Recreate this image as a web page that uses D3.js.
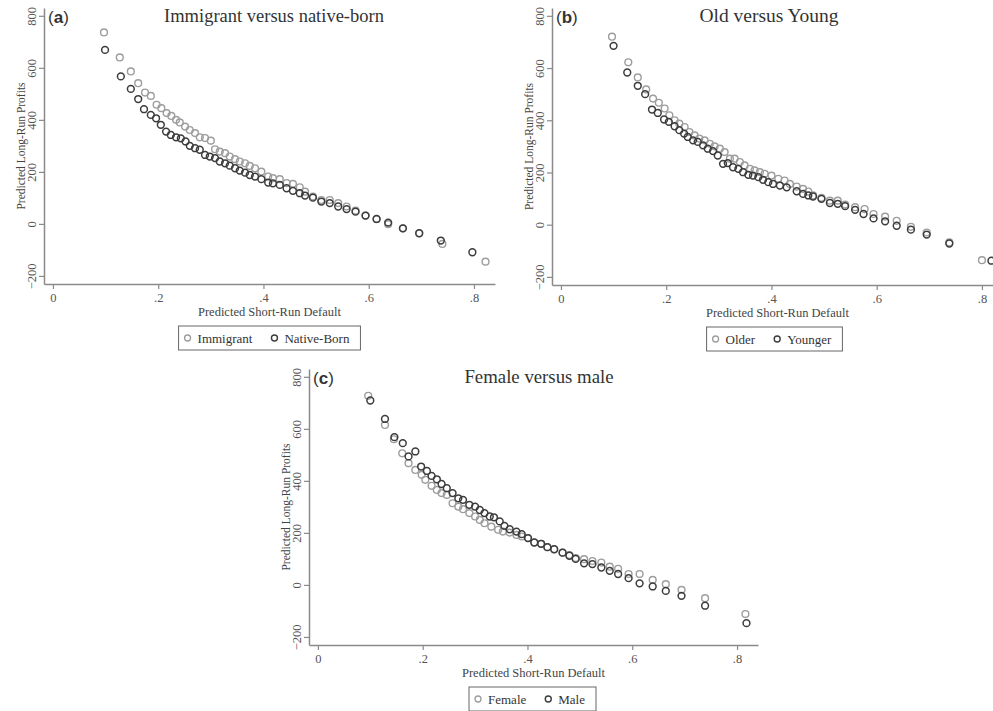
<!DOCTYPE html>
<html>
<head>
<meta charset="utf-8">
<script src="https://cdn.jsdelivr.net/npm/d3@7"></script>
<style>
  body { margin: 0; background: #fff; }
  svg text { font-family: "Liberation Serif", "DejaVu Serif", serif; }
  svg text.letter { font-family: "Liberation Sans", Arial, sans-serif; }
</style>
</head>
<body>
<div id="viz"></div>
<script>
let w = 993;
let h = 711;

// panel (a) immigrant vs native-born
let defaultImm = [0.097,0.127,0.148,0.162,0.175,0.186,0.197,0.206,0.216,0.225,0.234,0.241,0.251,0.260,0.270,0.279,0.289,0.300,0.308,0.317,0.327,0.336,0.346,0.355,0.365,0.374,0.384,0.396,0.409,0.418,0.431,0.444,0.456,0.469,0.479,0.494,0.510,0.526,0.542,0.558,0.575,0.594,0.615,0.637,0.665,0.696,0.740,0.822];
let profitImm = [736,640,586,541,505,492,458,445,426,415,400,390,374,361,349,333,330,320,287,278,272,259,249,240,233,223,214,201,182,176,172,157,154,141,124,105,92,92,80,67,51,32,18,-1,-17,-36,-77,-145];
let defaultNat = [0.099,0.129,0.148,0.162,0.173,0.186,0.196,0.205,0.215,0.224,0.234,0.243,0.252,0.260,0.270,0.279,0.289,0.298,0.308,0.317,0.327,0.336,0.346,0.355,0.365,0.374,0.384,0.396,0.409,0.418,0.431,0.444,0.456,0.469,0.479,0.494,0.510,0.526,0.542,0.558,0.575,0.594,0.615,0.637,0.665,0.696,0.737,0.797];
let profitNat = [669,567,519,480,441,419,406,381,355,342,333,329,317,300,291,285,265,259,253,240,233,224,214,205,197,188,182,172,159,156,150,137,127,118,109,101,86,80,67,57,47,32,19,5,-17,-36,-64,-109];

// panel (b) old vs young
let defaultOld = [0.097,0.128,0.146,0.162,0.175,0.186,0.197,0.206,0.216,0.225,0.235,0.244,0.254,0.263,0.273,0.283,0.292,0.302,0.311,0.321,0.330,0.340,0.349,0.359,0.368,0.378,0.387,0.400,0.413,0.425,0.435,0.448,0.460,0.470,0.479,0.495,0.511,0.526,0.540,0.559,0.577,0.594,0.616,0.638,0.665,0.695,0.738,0.800];
let profitOld = [720,622,564,518,483,467,445,419,400,387,374,355,342,330,323,310,300,291,278,253,253,240,227,214,208,201,195,188,176,169,156,146,137,127,112,103,92,92,77,67,60,41,31,15,-8,-30,-68,-136];
let defaultYoung = [0.100,0.126,0.146,0.160,0.173,0.184,0.196,0.205,0.216,0.225,0.234,0.241,0.251,0.260,0.270,0.279,0.289,0.298,0.308,0.317,0.327,0.337,0.346,0.356,0.365,0.375,0.384,0.394,0.403,0.416,0.429,0.448,0.460,0.470,0.479,0.495,0.511,0.526,0.540,0.559,0.575,0.594,0.616,0.638,0.665,0.695,0.738,0.818];
let profitYoung = [685,583,532,500,441,428,403,394,377,362,349,336,323,317,304,291,282,265,233,236,220,214,201,191,188,182,172,163,156,150,143,128,118,112,108,99,83,80,71,57,41,24,13,-4,-19,-38,-72,-138];

// panel (c) female vs male
let defaultFem = [0.096,0.128,0.145,0.161,0.173,0.186,0.198,0.205,0.217,0.227,0.236,0.246,0.257,0.268,0.277,0.289,0.300,0.309,0.318,0.331,0.344,0.353,0.366,0.379,0.389,0.401,0.413,0.426,0.438,0.451,0.467,0.480,0.492,0.508,0.524,0.541,0.557,0.573,0.593,0.614,0.639,0.664,0.694,0.739,0.816];
let profitFem = [727,615,560,506,468,442,423,404,381,365,353,346,314,301,291,276,263,250,237,224,212,205,201,192,186,180,163,158,145,137,124,115,103,99,92,86,70,62,42,42,19,3,-19,-51,-112];
let defaultMale = [0.100,0.128,0.146,0.162,0.173,0.186,0.197,0.208,0.217,0.227,0.236,0.246,0.257,0.268,0.277,0.289,0.300,0.309,0.318,0.328,0.336,0.347,0.356,0.366,0.379,0.389,0.401,0.413,0.426,0.438,0.451,0.467,0.480,0.492,0.508,0.524,0.541,0.557,0.573,0.593,0.614,0.639,0.664,0.694,0.739,0.818];
let profitMale = [709,638,568,545,494,513,455,438,419,406,388,372,353,333,327,308,301,288,276,263,260,244,227,214,205,195,180,163,158,145,137,124,112,100,83,80,67,54,42,26,6,-6,-23,-42,-80,-147];

let xTicks = [0, 0.2, 0.4, 0.6, 0.8];
let yTicks = [-200, 0, 200, 400, 600, 800];

let lightColor = "#9d9d9d";
let darkColor = "#3c3c3c";
let axisColor = "#8a8a8a";

let viz = d3.select("#viz")
    .append("svg")
    .attr("width", w)
    .attr("height", h);

function zip(xs, ys) {
    return xs.map((x, i) => ({x: x, y: ys[i]}));
}

function fmtX(d) {
    if (d === 0) return "0";
    return d3.format(".1f")(d).replace(/^0/, "");
}

function drawPanel(p) {
    let g = viz.append("g");

    let xScale = d3.scaleLinear().domain([-0.017, 0.84]).range([p.left, p.right]);
    let yScale = d3.scaleLinear().domain([-231, 830]).range([p.bottom, p.top]);

    // x axis
    let xAxis = g.append("g")
        .attr("transform", "translate(0," + p.bottom + ")")
        .call(d3.axisBottom(xScale).tickValues(xTicks).tickFormat(fmtX).tickSize(5).tickSizeOuter(0));
    // y axis
    let yAxis = g.append("g")
        .attr("transform", "translate(" + p.left + ",0)")
        .call(d3.axisLeft(yScale).tickValues(yTicks).tickSize(5).tickSizeOuter(0));

    [xAxis, yAxis].forEach(a => {
        a.select(".domain").attr("stroke", axisColor).attr("stroke-width", 1.5);
        a.selectAll(".tick line").attr("stroke", axisColor).attr("stroke-width", 1.2);
        a.selectAll(".tick text")
            .attr("fill", "#555")
            .attr("font-size", 12.5);
    });
    xAxis.selectAll(".tick text").attr("y", 9).attr("dy", "0.71em");
    yAxis.selectAll(".tick text")
        .attr("transform", "rotate(-90)")
        .attr("x", 0)
        .attr("y", -8)
        .attr("dy", 0)
        .attr("text-anchor", "middle");

    // axis titles
    g.append("text")
        .attr("x", (p.left + p.right) / 2)
        .attr("y", p.bottom + 32)
        .attr("text-anchor", "middle")
        .attr("font-size", 12.5)
        .attr("fill", "#444")
        .text("Predicted Short-Run Default");

    g.append("text")
        .attr("transform", "translate(" + (p.left - 19) + "," + ((p.top + p.bottom) / 2) + ") rotate(-90)")
        .attr("text-anchor", "middle")
        .attr("font-size", 11.5)
        .attr("fill", "#444")
        .text("Predicted Long-Run Profits");

    // panel letter and title
    g.append("text")
        .attr("class", "letter")
        .attr("x", p.left + 4)
        .attr("y", p.top + 15)
        .attr("font-size", 17)
        .attr("fill", "#333")
        .text("(")
        .append("tspan").attr("font-weight", "bold").text(p.letter)
        .select(function () { return this.parentNode; })
        .append("tspan").text(")");

    g.append("text")
        .attr("x", p.titleX)
        .attr("y", p.top + 14)
        .attr("text-anchor", "middle")
        .attr("font-size", p.titleSize)
        .attr("fill", "#333")
        .text(p.title);

    // points: light series first, dark on top
    g.append("g").selectAll("circle")
        .data(zip(p.xs1, p.ys1))
        .enter()
        .append("circle")
        .attr("cx", d => xScale(d.x))
        .attr("cy", d => yScale(d.y))
        .attr("r", 3.4)
        .attr("fill", "none")
        .attr("stroke", lightColor)
        .attr("stroke-width", 1.4);

    g.append("g").selectAll("circle")
        .data(zip(p.xs2, p.ys2))
        .enter()
        .append("circle")
        .attr("cx", d => xScale(d.x))
        .attr("cy", d => yScale(d.y))
        .attr("r", 3.4)
        .attr("fill", "none")
        .attr("stroke", darkColor)
        .attr("stroke-width", 1.5);

    // legend
    let lg = g.append("g");
    let cx = (p.left + p.right) / 2 + p.legendShift;
    let ly = p.bottom + 42;
    let t1 = lg.append("text").attr("font-size", 13).attr("fill", "#333").text(p.names[0]);
    let t2 = lg.append("text").attr("font-size", 13).attr("fill", "#333").text(p.names[1]);
    let w1 = t1.node().getComputedTextLength();
    let w2 = t2.node().getComputedTextLength();
    let total = 10 + 10 + w1 + 22 + 10 + w2 + 10;
    let x0 = cx - total / 2;
    lg.append("rect")
        .attr("x", x0).attr("y", ly)
        .attr("width", total).attr("height", 24)
        .attr("fill", "none")
        .attr("stroke", "#666")
        .attr("stroke-width", 1);
    lg.append("circle").attr("cx", x0 + 9).attr("cy", ly + 12).attr("r", 3)
        .attr("fill", "none").attr("stroke", lightColor).attr("stroke-width", 1.3);
    t1.attr("x", x0 + 19).attr("y", ly + 16.5);
    let x2 = x0 + 19 + w1 + 22;
    lg.append("circle").attr("cx", x2).attr("cy", ly + 12).attr("r", 3)
        .attr("fill", "none").attr("stroke", darkColor).attr("stroke-width", 1.4);
    t2.attr("x", x2 + 10).attr("y", ly + 16.5);
}

drawPanel({
    left: 44, right: 495, top: 8, bottom: 284,
    letter: "a", title: "Immigrant versus native-born", titleX: 274, titleSize: 18.5,
    names: ["Immigrant", "Native-Born"], legendShift: 0,
    xs1: defaultImm, ys1: profitImm, xs2: defaultNat, ys2: profitNat
});

drawPanel({
    left: 552, right: 1003, top: 8, bottom: 285,
    letter: "b", title: "Old versus Young", titleX: 769, titleSize: 19.5,
    names: ["Older", "Younger"], legendShift: -3,
    xs1: defaultOld, ys1: profitOld, xs2: defaultYoung, ys2: profitYoung
});

drawPanel({
    left: 309, right: 758, top: 369, bottom: 645,
    letter: "c", title: "Female versus male", titleX: 539, titleSize: 18.8,
    names: ["Female", "Male"], legendShift: -1,
    xs1: defaultFem, ys1: profitFem, xs2: defaultMale, ys2: profitMale
});
</script>
</body>
</html>
